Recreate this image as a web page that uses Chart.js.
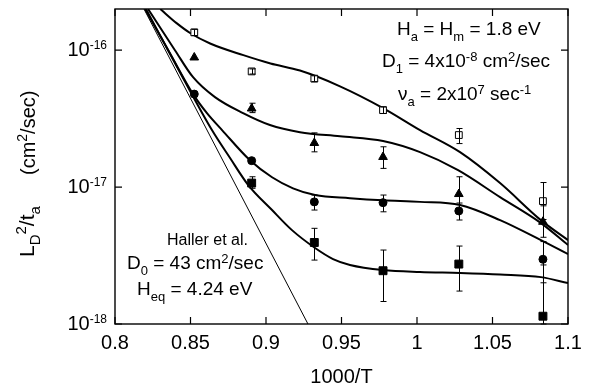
<!DOCTYPE html>
<html>
<head>
<meta charset="utf-8">
<script src="https://cdn.jsdelivr.net/npm/chart.js@4.4.0/dist/chart.umd.min.js"></script>
<style>
  html, body { margin:0; padding:0; background:#fff; }
</style>
</head>
<body>
<canvas id="chart" width="592" height="389"></canvas>
<script>
// ==== Axis ticks ====
const xTicks = [0.8, 0.85, 0.9, 0.95, 1, 1.05, 1.1];
const yTicks = [1e-18, 1e-17, 1e-16];
const yTickLabels = [["10", "^-18"], ["10", "^-17"], ["10", "^-16"]];

// ==== Measured points (1000/T columns) ====
const temps = [0.8525, 0.8905, 0.932, 0.9775, 1.0277, 1.0834];

const openSq   = [1.35e-16, 7.0e-17, 6.2e-17, 3.65e-17, 2.4e-17, 7.9e-18];
const openSqLo = [1.28e-16, 6.7e-17, 5.9e-17, 3.45e-17, 2.08e-17, 5.8e-18];
const openSqHi = [1.42e-16, 7.3e-17, 6.5e-17, 3.85e-17, 2.68e-17, 1.08e-17];

const tri   = [8.85e-17, 3.75e-17, 2.1e-17, 1.66e-17, 8.9e-18, 5.58e-18];
const triLo = [null, 3.5e-17, 1.81e-17, 1.37e-17, 6.8e-18, 4.3e-18];
const triHi = [null, 4.1e-17, 2.49e-17, 1.97e-17, 1.19e-17, 7.3e-18];

const circ   = [4.78e-17, 1.56e-17, 7.8e-18, 7.7e-18, 6.7e-18, 2.97e-18];
const circLo = [null, null, 6.8e-18, 6.6e-18, 5.75e-18, 2.0e-18];
const circHi = [null, null, 8.75e-18, 8.75e-18, 7.65e-18, 4.0e-18];

const sq   = [null, 1.07e-17, 3.94e-18, 2.45e-18, 2.74e-18, 1.14e-18];
const sqLo = [null, 9.8e-18, 2.93e-18, 1.46e-18, 1.74e-18, 1.0e-18];
const sqHi = [null, 1.19e-17, 5.0e-18, 3.47e-18, 3.71e-18, 2.7e-18];

// ==== Fit curves ====
const fitOpenX = [0.830, 0.841, 0.850, 0.863, 0.885, 0.903, 0.9225, 0.949, 0.9775, 1.002, 1.0285, 1.055, 1.082, 1.1];
const fitOpenY = [2.0e-16, 1.57e-16, 1.33e-16, 1.12e-16, 9.2e-17, 8.0e-17, 7.1e-17, 5.45e-17, 3.78e-17, 2.61e-17, 1.80e-17, 1.07e-17, 5.74e-18, 4.1e-18];

const fitTriX = [0.8219, 0.8397, 0.8517, 0.8662, 0.8848, 0.9026, 0.9225, 0.949, 0.9775, 1.002, 1.0272, 1.055, 1.0821, 1.1];
const fitTriY = [2.0e-16, 1.0e-16, 6.35e-17, 4.54e-17, 3.47e-17, 2.84e-17, 2.52e-17, 2.35e-17, 2.17e-17, 1.80e-17, 1.33e-17, 8.45e-18, 5.46e-18, 3.78e-18];

const fitCircX = [0.8199, 0.8364, 0.8517, 0.8609, 0.8709, 0.8894, 0.904, 0.9179, 0.9325, 0.9556, 0.9775, 1.002, 1.0285, 1.055, 1.0821, 1.1];
const fitCircY = [2.0e-16, 9.5e-17, 4.78e-17, 3.47e-17, 2.61e-17, 1.57e-17, 1.18e-17, 9.8e-18, 8.75e-18, 8.3e-18, 8.0e-18, 7.8e-18, 7.4e-18, 5.74e-18, 4.1e-18, 3.24e-18];

const fitSqX = [0.8205, 0.843, 0.8642, 0.8762, 0.8881, 0.904, 0.9172, 0.9325, 0.9444, 0.9556, 0.9775, 1.002, 1.0285, 1.055, 1.0821, 1.1];
const fitSqY = [2.0e-16, 6.9e-17, 2.61e-17, 1.63e-17, 1.04e-17, 6.8e-18, 4.85e-18, 3.59e-18, 2.98e-18, 2.70e-18, 2.48e-18, 2.40e-18, 2.36e-18, 2.3e-18, 2.2e-18, 1.99e-18];

// Haller et al. straight Arrhenius line
const hallerX = [0.8192, 0.9278];
const hallerY = [2.0e-16, 1.0e-18];

// ==== Helpers ====
const FONT = "'Liberation Sans', Arial, Helvetica, sans-serif";

function pts(ys) {
  const out = [];
  ys.forEach((y, i) => { if (y != null) out.push({ x: temps[i], y }); });
  return out;
}
function curve(xs, ys) {
  return xs.map((x, i) => ({ x, y: ys[i] }));
}

// parts: "text", "_sub", "^sup"
function richWidth(ctx, parts, size, small) {
  let w = 0;
  for (const p of parts) {
    const isSmall = p[0] === "_" || p[0] === "^";
    ctx.font = (isSmall ? small : size) + "px " + FONT;
    w += ctx.measureText(isSmall ? p.slice(1) : p).width;
  }
  return w;
}
function rich(ctx, x, y, parts, size, small, subDy, supDy) {
  let cx = x;
  ctx.textAlign = "left";
  ctx.textBaseline = "alphabetic";
  for (const p of parts) {
    let txt = p, dy = 0, fs = size;
    if (p[0] === "_") { txt = p.slice(1); dy = subDy; fs = small; }
    else if (p[0] === "^") { txt = p.slice(1); dy = -supDy; fs = small; }
    ctx.font = fs + "px " + FONT;
    ctx.fillText(txt, cx, y + dy);
    cx += ctx.measureText(txt).width;
  }
}

const errorSets = [
  { lo: openSqLo, hi: openSqHi },
  { lo: triLo, hi: triHi },
  { lo: circLo, hi: circHi },
  { lo: sqLo, hi: sqHi }
];

const decor = {
  id: "decor",
  afterDatasetsDraw(chart) {
    const { ctx, scales: { x: xs, y: ys } } = chart;
    ctx.save();
    ctx.strokeStyle = "#000";
    ctx.lineWidth = 1;
    for (const set of errorSets) {
      temps.forEach((t, i) => {
        if (set.lo[i] == null) return;
        const px = Math.round(xs.getPixelForValue(t)) + 0.5;
        const p1 = ys.getPixelForValue(set.lo[i]);
        const p2 = ys.getPixelForValue(set.hi[i]);
        ctx.beginPath();
        ctx.moveTo(px, p1); ctx.lineTo(px, p2);
        ctx.moveTo(px - 3, p1); ctx.lineTo(px + 3, p1);
        ctx.moveTo(px - 3, p2); ctx.lineTo(px + 3, p2);
        ctx.stroke();
      });
    }
    ctx.restore();
  },
  afterDraw(chart) {
    const { ctx, chartArea: a, scales: { x: xs, y: ys } } = chart;
    ctx.save();
    ctx.strokeStyle = "#000";
    ctx.fillStyle = "#000";

    // frame
    ctx.lineWidth = 1.4;
    ctx.strokeRect(a.left, a.top, a.right - a.left, a.bottom - a.top);

    // inward ticks
    ctx.lineWidth = 1.2;
    ctx.beginPath();
    xTicks.forEach(v => {
      const px = xs.getPixelForValue(v);
      ctx.moveTo(px, a.bottom); ctx.lineTo(px, a.bottom - 7);
      ctx.moveTo(px, a.top); ctx.lineTo(px, a.top + 7);
    });
    yTicks.forEach(v => {
      const py = ys.getPixelForValue(v);
      ctx.moveTo(a.left, py); ctx.lineTo(a.left + 7, py);
      ctx.moveTo(a.right, py); ctx.lineTo(a.right - 7, py);
    });
    ctx.stroke();

    // y tick labels 10^-n
    yTicks.forEach((v, i) => {
      const py = ys.getPixelForValue(v);
      const w = richWidth(ctx, yTickLabels[i], 20, 12);
      rich(ctx, 107 - w, py + 6, yTickLabels[i], 20, 12, 6, 7);
    });

    // x title
    ctx.font = "20px " + FONT;
    ctx.textAlign = "center";
    ctx.textBaseline = "alphabetic";
    ctx.fillText("1000/T", (a.left + a.right) / 2, 383);

    // y title (rotated)
    ctx.save();
    ctx.translate(34, 257);
    ctx.rotate(-Math.PI / 2);
    rich(ctx, 0, 0, ["L", "_D", "^2", "/t", "_a"], 21, 15, 6, 8);
    ctx.restore();
    ctx.save();
    ctx.translate(35, 175);
    ctx.rotate(-Math.PI / 2);
    rich(ctx, 0, 0, ["(cm", "^2", "/sec)"], 20, 14, 6, 8);
    ctx.restore();

    // parameter box, upper right
    rich(ctx, 397, 35, ["H", "_a", " = H", "_m", " = 1.8 eV"], 19, 13, 6, 6);
    rich(ctx, 382, 66.5, ["D", "_1", " = 4x10", "^-8", " cm", "^2", "/sec"], 19, 13, 6, 6);
    rich(ctx, 398, 100, ["\u03bd", "_a", " = 2x10", "^7", " sec", "^-1"], 19, 13, 6, 6);

    // Haller et al. label, lower left
    rich(ctx, 167, 245, ["Haller et al."], 16, 11, 5, 5);
    rich(ctx, 127, 268.5, ["D", "_0", " = 43 cm", "^2", "/sec"], 19, 13, 6, 6);
    rich(ctx, 137, 295, ["H", "_eq", " = 4.24 eV"], 19, 13, 6, 6);

    ctx.restore();
  }
};

const lineStyle = (w) => ({
  type: "line", showLine: true, borderColor: "#000", borderWidth: w,
  pointRadius: 0, fill: false, cubicInterpolationMode: "monotone"
});

new Chart(document.getElementById("chart"), {
  type: "scatter",
  data: {
    datasets: [
      { data: pts(openSq), pointStyle: "rect", pointRadius: 4.8, backgroundColor: "#fff", borderColor: "#000", borderWidth: 1 },
      { data: pts(tri), pointStyle: "triangle", pointRadius: 5, backgroundColor: "#000", borderColor: "#000", borderWidth: 1 },
      { data: pts(circ), pointStyle: "circle", pointRadius: 4, backgroundColor: "#000", borderColor: "#000", borderWidth: 1 },
      { data: pts(sq), pointStyle: "rect", pointRadius: 5.6, backgroundColor: "#000", borderColor: "#000", borderWidth: 1 },
      { ...lineStyle(2), data: curve(fitOpenX, fitOpenY) },
      { ...lineStyle(2), data: curve(fitTriX, fitTriY) },
      { ...lineStyle(2), data: curve(fitCircX, fitCircY) },
      { ...lineStyle(2), data: curve(fitSqX, fitSqY) },
      { ...lineStyle(1), data: curve(hallerX, hallerY) }
    ]
  },
  options: {
    responsive: false,
    animation: false,
    devicePixelRatio: 1,
    layout: { padding: { top: 9, right: 24, left: 0, bottom: 0 } },
    plugins: { legend: { display: false }, tooltip: { enabled: false } },
    scales: {
      x: {
        type: "linear", min: 0.8, max: 1.1,
        afterBuildTicks: s => { s.ticks = xTicks.map(v => ({ value: v })); },
        afterFit: s => { s.height = 65; },
        grid: { display: false, drawTicks: false },
        border: { display: false },
        ticks: {
          padding: 7, color: "#000", maxRotation: 0, autoSkip: false,
          font: { family: FONT, size: 20 },
          callback: v => String(Math.round(v * 100) / 100)
        }
      },
      y: {
        type: "logarithmic", min: 1e-18, max: 2e-16,
        afterBuildTicks: s => { s.ticks = yTicks.map(v => ({ value: v })); },
        afterFit: s => { s.width = 115; },
        grid: { display: false, drawTicks: false },
        border: { display: false },
        ticks: { display: false }
      }
    }
  },
  plugins: [decor]
});
</script>
</body>
</html>
